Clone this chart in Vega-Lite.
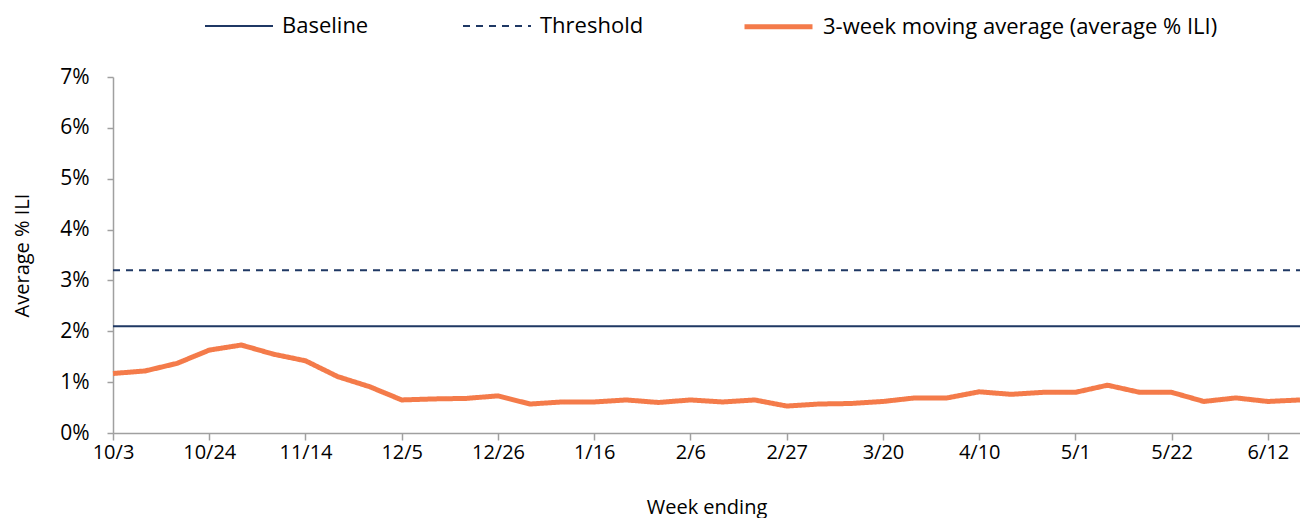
{
  "$schema": "https://vega.github.io/schema/vega-lite/v6.json",
  "autosize": {"type": "none"},
  "width": 1187,
  "height": 356,
  "padding": {"left": 113, "top": 77, "right": 0, "bottom": 85},
  "background": "white",
  "config": {
    "view": {"stroke": null},
    "font": "Open Sans",
    "axis": {"grid": false, "domainColor": "#a0a0a0", "tickColor": "#a0a0a0", "domainWidth": 1.5, "tickWidth": 1.5, "labelColor": "#000000", "titleColor": "#000000", "labelFont": "Open Sans", "titleFont": "Open Sans", "titleFontWeight": "normal"},
    "legend": {"labelFont": "Open Sans", "labelColor": "#000000"}
  },
  "data": {
    "values": [
      {"week": "10/3", "series": "3-week moving average (average % ILI)", "value": 1.17},
      {"week": "10/10", "series": "3-week moving average (average % ILI)", "value": 1.22},
      {"week": "10/17", "series": "3-week moving average (average % ILI)", "value": 1.37},
      {"week": "10/24", "series": "3-week moving average (average % ILI)", "value": 1.63},
      {"week": "10/31", "series": "3-week moving average (average % ILI)", "value": 1.73},
      {"week": "11/7", "series": "3-week moving average (average % ILI)", "value": 1.55},
      {"week": "11/14", "series": "3-week moving average (average % ILI)", "value": 1.42},
      {"week": "11/21", "series": "3-week moving average (average % ILI)", "value": 1.11},
      {"week": "11/28", "series": "3-week moving average (average % ILI)", "value": 0.91},
      {"week": "12/5", "series": "3-week moving average (average % ILI)", "value": 0.65},
      {"week": "12/12", "series": "3-week moving average (average % ILI)", "value": 0.67},
      {"week": "12/19", "series": "3-week moving average (average % ILI)", "value": 0.68},
      {"week": "12/26", "series": "3-week moving average (average % ILI)", "value": 0.73},
      {"week": "1/2", "series": "3-week moving average (average % ILI)", "value": 0.57},
      {"week": "1/9", "series": "3-week moving average (average % ILI)", "value": 0.61},
      {"week": "1/16", "series": "3-week moving average (average % ILI)", "value": 0.61},
      {"week": "1/23", "series": "3-week moving average (average % ILI)", "value": 0.65},
      {"week": "1/30", "series": "3-week moving average (average % ILI)", "value": 0.6},
      {"week": "2/6", "series": "3-week moving average (average % ILI)", "value": 0.65},
      {"week": "2/13", "series": "3-week moving average (average % ILI)", "value": 0.61},
      {"week": "2/20", "series": "3-week moving average (average % ILI)", "value": 0.65},
      {"week": "2/27", "series": "3-week moving average (average % ILI)", "value": 0.53},
      {"week": "3/6", "series": "3-week moving average (average % ILI)", "value": 0.57},
      {"week": "3/13", "series": "3-week moving average (average % ILI)", "value": 0.58},
      {"week": "3/20", "series": "3-week moving average (average % ILI)", "value": 0.62},
      {"week": "3/27", "series": "3-week moving average (average % ILI)", "value": 0.69},
      {"week": "4/3", "series": "3-week moving average (average % ILI)", "value": 0.69},
      {"week": "4/10", "series": "3-week moving average (average % ILI)", "value": 0.81},
      {"week": "4/17", "series": "3-week moving average (average % ILI)", "value": 0.76},
      {"week": "4/24", "series": "3-week moving average (average % ILI)", "value": 0.8},
      {"week": "5/1", "series": "3-week moving average (average % ILI)", "value": 0.8},
      {"week": "5/8", "series": "3-week moving average (average % ILI)", "value": 0.94},
      {"week": "5/15", "series": "3-week moving average (average % ILI)", "value": 0.8},
      {"week": "5/22", "series": "3-week moving average (average % ILI)", "value": 0.8},
      {"week": "5/29", "series": "3-week moving average (average % ILI)", "value": 0.62},
      {"week": "6/5", "series": "3-week moving average (average % ILI)", "value": 0.69},
      {"week": "6/12", "series": "3-week moving average (average % ILI)", "value": 0.62},
      {"week": "6/19", "series": "3-week moving average (average % ILI)", "value": 0.65},
      {"week": "10/3", "series": "Baseline", "value": 2.1},
      {"week": "6/19", "series": "Baseline", "value": 2.1},
      {"week": "10/3", "series": "Threshold", "value": 3.2},
      {"week": "6/19", "series": "Threshold", "value": 3.2}
    ]
  },
  "mark": {"type": "line", "strokeJoin": "round"},
  "encoding": {
    "x": {
      "field": "week",
      "type": "ordinal",
      "sort": null,
      "scale": {"type": "point", "padding": 0},
      "axis": {
        "title": "Week ending",
        "values": ["10/3", "10/24", "11/14", "12/5", "12/26", "1/16", "2/6", "2/27", "3/20", "4/10", "5/1", "5/22", "6/12"],
        "labelAngle": 0,
        "labelFontSize": 20,
        "titleFontSize": 20,
        "tickSize": 7,
        "labelPadding": 2,
        "titlePadding": 35
      }
    },
    "y": {
      "field": "value",
      "type": "quantitative",
      "scale": {"domain": [0, 7], "nice": false, "zero": true},
      "axis": {
        "title": "Average % ILI",
        "values": [0, 1, 2, 3, 4, 5, 6, 7],
        "labelExpr": "datum.value + '%'",
        "labelFontSize": 21,
        "titleFontSize": 20,
        "tickSize": 6,
        "labelPadding": 18,
        "titlePadding": 27
      }
    },
    "color": {
      "field": "series",
      "type": "nominal",
      "scale": {"domain": ["Baseline", "Threshold", "3-week moving average (average % ILI)"], "range": ["#1f3864", "#1f3864", "#f47b4a"]},
      "legend": {
        "title": null,
        "orient": "none",
        "legendX": 91,
        "legendY": -87,
        "direction": "horizontal",
        "symbolType": "stroke",
        "symbolSize": 4624,
        "labelFontSize": 22,
        "labelLimit": 600,
        "labelOffset": 8,
        "columnPadding": 90
      }
    },
    "strokeDash": {
      "field": "series",
      "type": "nominal",
      "scale": {"domain": ["Baseline", "Threshold", "3-week moving average (average % ILI)"], "range": [[1, 0], [7, 6], [1, 0]]},
      "legend": {
        "title": null,
        "orient": "none",
        "legendX": 91,
        "legendY": -87,
        "direction": "horizontal",
        "symbolType": "stroke",
        "symbolSize": 4624,
        "labelFontSize": 22,
        "labelLimit": 600,
        "labelOffset": 8,
        "columnPadding": 90
      }
    },
    "strokeWidth": {
      "field": "series",
      "type": "nominal",
      "scale": {"type": "ordinal", "domain": ["Baseline", "Threshold", "3-week moving average (average % ILI)"], "range": [2, 2, 5]},
      "legend": {
        "title": null,
        "orient": "none",
        "legendX": 91,
        "legendY": -87,
        "direction": "horizontal",
        "symbolType": "stroke",
        "symbolSize": 4624,
        "labelFontSize": 22,
        "labelLimit": 600,
        "labelOffset": 8,
        "columnPadding": 90
      }
    }
  }
}
